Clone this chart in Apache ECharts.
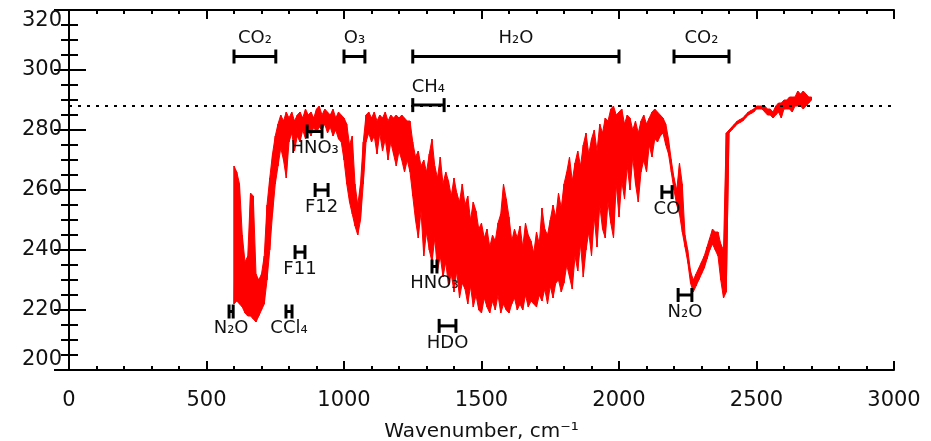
<!DOCTYPE html>
<html>
<head>
<meta charset="utf-8">
<script src="https://cdn.jsdelivr.net/npm/echarts@6/dist/echarts.min.js"></script>
<style>
html,body{margin:0;padding:0;background:#fff;}
#chart{width:931px;height:441px;}
</style>
</head>
<body>
<div id="chart"></div>
<script>
// Wavenumber (cm^-1) sample positions
const wavenumber = [
  600,610,620,630,640,650,660,670,680,690,
  700,710,720,730,740,750,760,770,780,790,
  800,810,820,830,840,850,860,870,880,890,
  900,910,920,930,940,950,960,970,980,990,
  1000,1010,1020,1030,1040,1050,1060,1070,1080,1090,
  1100,1110,1120,1130,1140,1150,1160,1170,1180,1190,
  1200,1210,1220,1230,1240,1250,1260,1270,1280,1290,
  1300,1310,1320,1330,1340,1350,1360,1370,1380,1390,
  1400,1410,1420,1430,1440,1450,1460,1470,1480,1490,
  1500,1510,1520,1530,1540,1550,1560,1570,1580,1590,
  1600,1610,1620,1630,1640,1650,1660,1670,1680,1690,
  1700,1710,1720,1730,1740,1750,1760,1770,1780,1790,
  1800,1810,1820,1830,1840,1850,1860,1870,1880,1890,
  1900,1910,1920,1930,1940,1950,1960,1970,1980,1990,
  2000,2010,2020,2030,2040,2050,2060,2070,2080,2090,
  2100,2110,2120,2130,2140,2150,2160,2170,2180,2190,
  2200,2210,2220,2230,2240,2250,2260,2270,2280,2290,
  2300,2310,2320,2330,2340,2350,2360,2370,2380,2390,
  2400,2410,2420,2430,2440,2450,2460,2470,2480,2490,
  2500,2510,2520,2530,2540,2550,2560,2570,2580,2590,
  2600,2610,2620,2630,2640,2650,2660,2670,2680,2690,
  2700
];
// Upper envelope of brightness temperature (K)
const tempHigh = [
  268,266,262,245,236,238,259,258,232,230,
  232,238,255,264,272,278,282,285,283,286,
  284,286,283,285,286,284,287,285,286,284,
  287,288,285,287,286,285,287,284,286,285,
  284,282,275,278,262,255,262,276,285,286,
  284,286,283,285,284,286,283,285,284,285,
  284,285,284,283,283,276,271,273,268,270,
  266,272,277,268,264,271,262,266,263,258,
  264,259,256,262,255,258,250,256,253,247,
  249,244,247,241,245,243,249,252,262,257,
  251,243,247,244,248,241,249,245,243,239,
  246,242,254,247,245,250,255,251,259,254,
  262,266,271,263,269,273,268,275,279,272,
  277,280,273,282,279,284,283,287,288,285,
  286,287,282,285,284,280,283,279,283,285,
  282,284,286,287,286,285,284,282,277,270,
  264,260,269,262,245,240,233,230,232,234,
  236,238,241,244,247,246,246,242,240,279,
  280,281,282,283,283.5,284,285,286,286.5,287,
  288,288,288,288,287,287,286,288,289,289,
  290,290,291,291,291,293,292,293,292,291,
  291
];
// Lower envelope of brightness temperature (K)
const tempLow = [
  222,223,222,221,219,218,218,217,216,218,
  220,222,230,240,252,262,268,274,270,264,
  276,279,273,278,276,280,277,280,278,281,
  279,281,280,282,279,281,278,280,277,276,
  270,262,256,252,248,245,250,262,276,279,
  276,278,272,279,273,277,270,276,272,268,
  273,270,266,270,266,258,250,244,253,238,
  246,240,236,244,233,238,231,236,228,232,
  226,233,224,229,227,222,228,221,225,220,
  219,224,221,219,223,220,225,219,222,220,
  219,222,224,220,222,220,225,221,223,222,
  221,225,223,227,222,228,224,229,230,226,
  229,235,231,227,238,233,242,231,240,246,
  238,251,241,255,247,244,256,249,244,262,
  251,263,257,268,260,271,262,256,266,270,
  266,275,271,277,276,278,279,275,272,266,
  260,255,252,246,241,236,229,226,228,230,
  232,234,237,240,242,240,238,230,224,226,
  279,280,281,282,282.5,283,284,285,285.5,286,
  287,287,287,286,285,285,284,285,286,284,
  287,287,287,286,288,288,288,287,288,289,
  290
];
// Reference (dotted) temperature level
const referenceTemp = 288;

// Band annotations
const bandLabels = ['CO₂','O₃','H₂O','CO₂','CH₄','HNO₃','F12','F11','N₂O','CCl₄','HNO₃','HDO','CO','N₂O'];
const bandStart  = [600,1000,1250,2200,1250,866,895,822,582,789,1320,1346,2156,2215];
const bandEnd    = [752,1076,2000,2400,1364,920,942,858,597,811,1338,1407,2193,2265];
const bandTemp   = [304.5,304.5,304.5,304.5,288.3,279.5,260,239.3,219.5,219.5,234.5,214.7,259.3,225];

// x / y axis ticks
const xTicks = [0,500,1000,1500,2000,2500,3000];
const yTicks = [200,220,240,260,280,300,320];

const spectrum = [];
for (let i = 0; i < wavenumber.length; i++) {
  spectrum.push([wavenumber[i], tempHigh[i]]);
  spectrum.push([wavenumber[i], tempLow[i]]);
}
const bands = bandLabels.map((l, i) => [bandStart[i], bandEnd[i], bandTemp[i], i]);

const chart = echarts.init(document.getElementById('chart'), null, {renderer: 'canvas'});
const FONT = 'DejaVu Sans';
const plain = v => String(v);
const axisCommon = {
  axisLine: {show: true, lineStyle: {color: '#000', width: 2}},
  splitLine: {show: false}
};
chart.setOption({
  animation: false,
  backgroundColor: '#fff',
  grid: {left: 69, right: 37, top: 10, bottom: 71, outerBoundsMode: 'none', containLabel: false},
  xAxis: [{
    ...axisCommon,
    type: 'value', position: 'bottom',
    min: xTicks[0], max: xTicks[xTicks.length - 1], interval: 500,
    axisTick: {show: true, inside: true, length: 9, lineStyle: {color: '#000', width: 2}},
    minorTick: {show: true, splitNumber: 5, length: 4, lineStyle: {color: '#000', width: 2}},
    axisLabel: {color: '#111', fontSize: 21, fontFamily: FONT, margin: 20, formatter: plain},
    name: 'Wavenumber, cm⁻¹', nameLocation: 'middle', nameGap: 52,
    nameTextStyle: {color: '#111', fontSize: 20, fontFamily: FONT}
  }, {
    ...axisCommon,
    type: 'value', position: 'top',
    min: xTicks[0], max: xTicks[xTicks.length - 1], interval: 500,
    axisTick: {show: true, inside: true, length: 9, lineStyle: {color: '#000', width: 2}},
    minorTick: {show: true, splitNumber: 5, length: 4, lineStyle: {color: '#000', width: 2}},
    axisLabel: {show: false}
  }],
  yAxis: [{
    ...axisCommon,
    type: 'value', position: 'left',
    min: yTicks[0], max: yTicks[yTicks.length - 1], interval: 20,
    axisTick: {show: true, inside: true, length: 17, lineStyle: {color: '#000', width: 2}},
    minorTick: {show: true, splitNumber: 4, length: 9, lineStyle: {color: '#000', width: 2}},
    axisLabel: {color: '#111', fontSize: 21, fontFamily: FONT, margin: 7, formatter: plain,
                verticalAlignMaxLabel: 'top', verticalAlignMinLabel: 'bottom'}
  }, {
    ...axisCommon,
    type: 'value', position: 'right',
    min: yTicks[0], max: yTicks[yTicks.length - 1], interval: 20,
    axisTick: {show: true, inside: true, length: 15, lineStyle: {color: '#000', width: 2}},
    minorTick: {show: true, splitNumber: 4, length: 8, lineStyle: {color: '#000', width: 2}},
    axisLabel: {show: false}
  }],
  series: [{
    // filled band between lower and upper envelopes
    type: 'custom',
    data: [[wavenumber[0], tempHigh[0]]],
    z: 2,
    renderItem: function (params, api) {
      const pts = [];
      for (let i = 0; i < wavenumber.length; i++) pts.push(api.coord([wavenumber[i], tempHigh[i]]));
      for (let i = wavenumber.length - 1; i >= 0; i--) pts.push(api.coord([wavenumber[i], tempLow[i]]));
      return {
        type: 'polygon',
        shape: {points: pts},
        style: {fill: '#ff0000', stroke: '#ff0000', lineWidth: 1}
      };
    }
  }, {
    type: 'line',
    data: spectrum,
    showSymbol: false,
    symbol: 'none',
    sampling: false,
    lineStyle: {color: '#ff0000', width: 1},
    z: 3
  }, {
    type: 'line',
    data: [],
    markLine: {
      silent: true,
      symbol: 'none',
      label: {show: false},
      lineStyle: {color: '#000', width: 2, type: [3, 6]},
      data: [{yAxis: referenceTemp}]
    },
    z: 4
  }, {
    type: 'custom',
    data: bands,
    clip: false,
    z: 5,
    renderItem: function (params, api) {
      const a = api.coord([api.value(0), api.value(2)]);
      const b = api.coord([api.value(1), api.value(2)]);
      const idx = api.value(3);
      const above = api.value(2) > 286;
      const h = 7;
      const ls = {stroke: '#000', lineWidth: 3};
      return {
        type: 'group',
        children: [
          {type: 'line', shape: {x1: a[0], y1: a[1], x2: b[0], y2: b[1]}, style: ls},
          {type: 'line', shape: {x1: a[0], y1: a[1] - h, x2: a[0], y2: a[1] + h}, style: ls},
          {type: 'line', shape: {x1: b[0], y1: b[1] - h, x2: b[0], y2: b[1] + h}, style: ls},
          {type: 'text', x: (a[0] + b[0]) / 2, y: above ? a[1] - 18 : a[1] + 17,
           style: {text: bandLabels[idx], fill: '#111', font: '18px "DejaVu Sans"',
                   align: 'center', verticalAlign: 'middle'}}
        ]
      };
    }
  }]
});
</script>
</body>
</html>
